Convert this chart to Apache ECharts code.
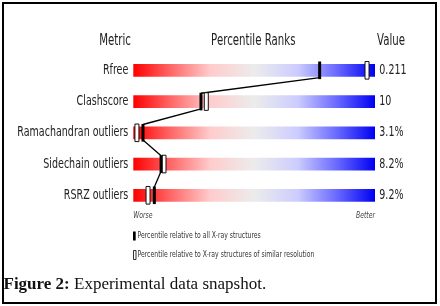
<!DOCTYPE html>
<html>
<head>
<meta charset="utf-8">
<script src="https://cdn.jsdelivr.net/npm/echarts@6/dist/echarts.min.js"></script>
<style>
html,body{margin:0;padding:0;background:#fff;overflow:hidden;}
#chart{width:440px;height:306px;}
</style>
</head>
<body>
<div id="chart"></div>
<script>
// ---- data ----
const metrics = ['Rfree', 'Clashscore', 'Ramachandran outliers', 'Sidechain outliers', 'RSRZ outliers'];
const valueLabels = ['0.211', '10', '3.1%', '8.2%', '9.2%'];
const pctAll = [77.1, 28.0, 4.0, 11.5, 8.7];        // percentile relative to all X-ray structures
const pctSimilar = [96.7, 30.2, 1.5, 12.7, 6.1];    // percentile relative to similar resolution
const scaleMax = [100, 100, 100, 100, 100];
const headers = ['Metric', 'Percentile Ranks', 'Value'];
const axisEnds = ['Worse', 'Better'];
const legendTexts = ['Percentile relative to all X-ray structures', 'Percentile relative to X-ray structures of similar resolution'];
const captionBold = 'Figure 2:';
const captionText = ' Experimental data snapshot.';

// ---- styling ----
const SQ = 0.68;           // horizontal squeeze of the original image text
const FONT = 'DejaVu Sans';
const MH = 8.8;            // half marker height

const chart = echarts.init(document.getElementById('chart'));

const gradient = new echarts.graphic.LinearGradient(0, 0, 1, 0, [
  {offset: 0, color: '#ff0000'},
  {offset: 0.15, color: '#ff6464'},
  {offset: 0.32, color: '#ffcccc'},
  {offset: 0.5, color: '#ececec'},
  {offset: 0.68, color: '#ccccff'},
  {offset: 0.85, color: '#6464ff'},
  {offset: 1, color: '#0000f2'}
]);

function sqText(x, y, text, opts) {
  return {
    type: 'text', x: x, y: y, scaleX: SQ, silent: true,
    style: Object.assign({
      text: text, x: 0, y: 0,
      textAlign: 'left', textVerticalAlign: 'middle',
      align: 'left', verticalAlign: 'middle',
      font: '14px ' + FONT, fill: '#222'
    }, opts || {})
  };
}

const option = {
  backgroundColor: '#fff',
  animation: false,
  grid: {left: 133.3, right: 65, top: 54.7, bottom: 95.1, outerBoundsMode: 'none'},
  xAxis: {type: 'value', min: 0, max: 100, show: false},
  yAxis: {type: 'category', data: metrics, inverse: true, show: false},
  series: [
    {
      type: 'bar', data: scaleMax, barWidth: 12.7, silent: true, z: 1,
      itemStyle: {color: gradient}
    },
    {
      type: 'custom', z: 3, silent: true,
      data: pctAll.map((p, i) => [p, i]),
      renderItem: function (params, api) {
        const i = params.dataIndex;
        if (i >= pctAll.length - 1) return null;
        const a = api.coord([pctAll[i], i]);
        const b = api.coord([pctAll[i + 1], i + 1]);
        return {
          type: 'line',
          shape: {x1: a[0], y1: a[1] + MH - 1.5, x2: b[0], y2: b[1] - MH + 0.5},
          style: {stroke: '#000', lineWidth: 1.3}
        };
      }
    },
    {
      type: 'custom', z: 4, silent: true,
      data: pctSimilar.map((p, i) => [p, i]),
      renderItem: function (params, api) {
        const c = api.coord([api.value(0), params.dataIndex]);
        return {
          type: 'rect',
          shape: {x: c[0] - 2, y: c[1] - MH, width: 4, height: 2 * MH},
          style: {fill: '#fff', stroke: '#111', lineWidth: 1}
        };
      }
    },
    {
      type: 'custom', z: 5, silent: true,
      data: pctAll.map((p, i) => [p, i]),
      renderItem: function (params, api) {
        const c = api.coord([api.value(0), params.dataIndex]);
        return {
          type: 'rect',
          shape: {x: c[0] - 1.5, y: c[1] - MH, width: 3, height: 2 * MH},
          style: {fill: '#000'}
        };
      }
    },
    {
      type: 'custom', z: 6, silent: true,
      data: metrics.map((m, i) => [0, i]),
      renderItem: function (params, api) {
        const i = params.dataIndex;
        const a = api.coord([0, i]);
        const b = api.coord([scaleMax[i], i]);
        return {
          type: 'group',
          children: [
            sqText(a[0] - 5, a[1], metrics[i], {textAlign: 'right', align: 'right'}),
            sqText(b[0] + 4.3, b[1], valueLabels[i])
          ]
        };
      }
    }
  ],
  graphic: [
    {type: 'rect', silent: true, z: 0, shape: {x: 3, y: 3, width: 433, height: 300},
     style: {fill: 'none', stroke: '#000', lineWidth: 2}},
    sqText(115, 41, headers[0], {textAlign: 'center', align: 'center', font: '15px ' + FONT}),
    sqText(253.3, 41, headers[1], {textAlign: 'center', align: 'center', font: '15px ' + FONT}),
    sqText(391, 41, headers[2], {textAlign: 'center', align: 'center', font: '15px ' + FONT}),
    sqText(133.3, 216, axisEnds[0], {font: 'italic 9px ' + FONT, fill: '#444'}),
    sqText(375, 216, axisEnds[1], {font: 'italic 9px ' + FONT, fill: '#444', textAlign: 'right', align: 'right'}),
    {type: 'rect', silent: true, shape: {x: 133, y: 231.5, width: 2.7, height: 9}, style: {fill: '#000'}},
    sqText(137.5, 236, legendTexts[0], {font: '9px ' + FONT, fill: '#333'}),
    {type: 'rect', silent: true, shape: {x: 133.5, y: 250.5, width: 2.5, height: 9},
     style: {fill: '#fff', stroke: '#000', lineWidth: 0.8}},
    sqText(137.5, 255, legendTexts[1], {font: '9px ' + FONT, fill: '#333'}),
    {
      type: 'text', x: 3.5, y: 285, silent: true,
      style: {
        text: '{b|' + captionBold + '}' + captionText,
        x: 0, y: 0, textVerticalAlign: 'middle', verticalAlign: 'middle',
        font: '17px "Liberation Serif"', fill: '#111',
        rich: {b: {font: 'bold 17px "Liberation Serif"', fill: '#111'}}
      }
    }
  ]
};
chart.setOption(option);
</script>
</body>
</html>
